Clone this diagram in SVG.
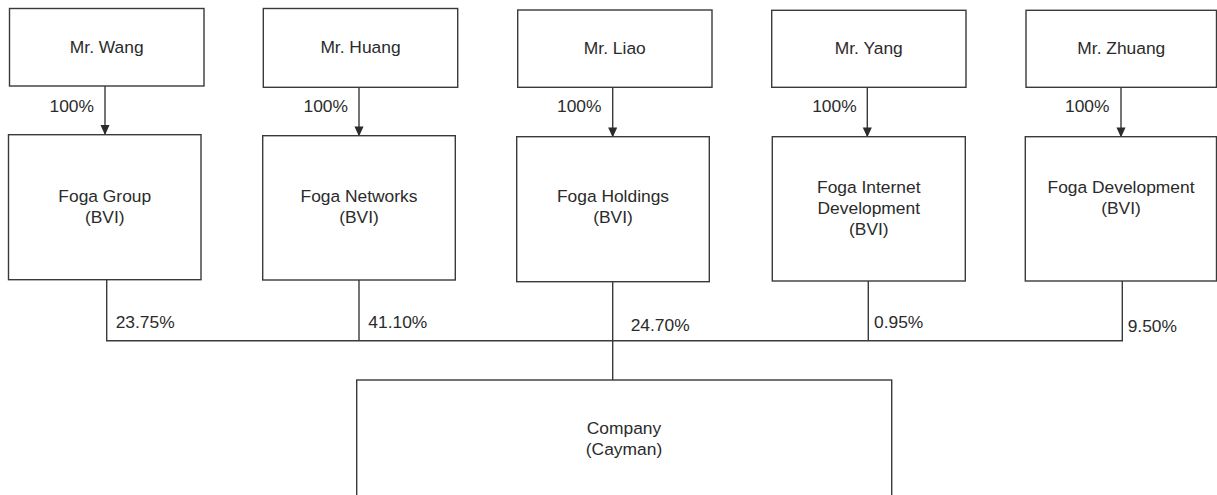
<svg xmlns="http://www.w3.org/2000/svg" width="1217" height="495" viewBox="0 0 1217 495">
<style>
.box{fill:#fff;stroke:#3a3a3a;stroke-width:1.4}
.ln{fill:none;stroke:#3a3a3a;stroke-width:1.4}
text{font-family:"Liberation Sans",Arial,sans-serif;font-size:17.4px;fill:#2b2b2b}
.c{text-anchor:middle}
.e{text-anchor:end}
</style>
<defs>
<marker id="ah" viewBox="0 0 10 11" refX="10" refY="5" markerWidth="11" markerHeight="10" markerUnits="userSpaceOnUse" orient="auto">
<path d="M0,0 L11,5 L0,10 Z" fill="#2b2b2b"/>
</marker>
</defs>
<rect width="1217" height="495" fill="#fff"/>
<g id="connectors">
<line class="ln" x1="105" y1="86" x2="105" y2="134" marker-end="url(#ah)"/>
<line class="ln" x1="359" y1="87.3" x2="359" y2="135.5" marker-end="url(#ah)"/>
<line class="ln" x1="612.7" y1="87.3" x2="612.7" y2="136.5" marker-end="url(#ah)"/>
<line class="ln" x1="867.3" y1="87.3" x2="867.3" y2="136.5" marker-end="url(#ah)"/>
<line class="ln" x1="1121" y1="87.3" x2="1121" y2="136.5" marker-end="url(#ah)"/>
<polyline class="ln" points="106.7,279.7 106.7,340.7 1122.3,340.7 1122.3,281"/>
<line class="ln" x1="359" y1="280" x2="359" y2="340.7"/>
<line class="ln" x1="612.7" y1="281.7" x2="612.7" y2="380"/>
<line class="ln" x1="868.3" y1="281" x2="868.3" y2="340.7"/>
<text class="e" x="94" y="111.7">100%</text>
<text class="e" x="348" y="111.7">100%</text>
<text class="e" x="601.5" y="111.7">100%</text>
<text class="e" x="856.7" y="111.7">100%</text>
<text class="e" x="1109.5" y="111.7">100%</text>
<text x="115.7" y="327.7">23.75%</text>
<text x="368.3" y="327.7">41.10%</text>
<text x="630.7" y="331">24.70%</text>
<text x="874" y="328.3">0.95%</text>
<text x="1127.7" y="332.3">9.50%</text>
</g>
<g id="wang"><rect class="box" x="9.5" y="8.5" width="194.5" height="77.5"/><text class="c" x="106.7" y="53.3">Mr. Wang</text></g>
<g id="huang"><rect class="box" x="263.3" y="8.5" width="194.4" height="78.8"/><text class="c" x="360.5" y="53.3">Mr. Huang</text></g>
<g id="liao"><rect class="box" x="517.7" y="10" width="194.3" height="77.3"/><text class="c" x="614.8" y="53.8">Mr. Liao</text></g>
<g id="yang"><rect class="box" x="771.7" y="10.3" width="194.3" height="77"/><text class="c" x="868.8" y="54.3">Mr. Yang</text></g>
<g id="zhuang"><rect class="box" x="1026" y="10.3" width="190.5" height="77"/><text class="c" x="1121.3" y="54.3">Mr. Zhuang</text></g>
<g id="foga-group"><rect class="box" x="8.5" y="134.7" width="192.5" height="145"/><text class="c" x="104.75" y="201.7">Foga Group</text><text class="c" x="104.75" y="223.3">(BVI)</text></g>
<g id="foga-networks"><rect class="box" x="262.7" y="135.7" width="192.6" height="144.3"/><text class="c" x="359" y="201.7">Foga Networks</text><text class="c" x="359" y="223.3">(BVI)</text></g>
<g id="foga-holdings"><rect class="box" x="516.7" y="136.7" width="192.6" height="145"/><text class="c" x="613" y="201.7">Foga Holdings</text><text class="c" x="613" y="223.3">(BVI)</text></g>
<g id="foga-internet"><rect class="box" x="772.3" y="136.7" width="193" height="144.3"/><text class="c" x="868.8" y="192.7">Foga Internet</text><text class="c" x="868.8" y="213.5">Development</text><text class="c" x="868.8" y="235">(BVI)</text></g>
<g id="foga-development"><rect class="box" x="1025.3" y="136.7" width="191.2" height="144.3"/><text class="c" x="1121" y="192.7">Foga Development</text><text class="c" x="1121" y="213.5">(BVI)</text></g>
<g id="company"><rect class="box" x="356.7" y="380" width="535" height="130"/><text class="c" x="624" y="434">Company</text><text class="c" x="624" y="454.5">(Cayman)</text></g>
</svg>
